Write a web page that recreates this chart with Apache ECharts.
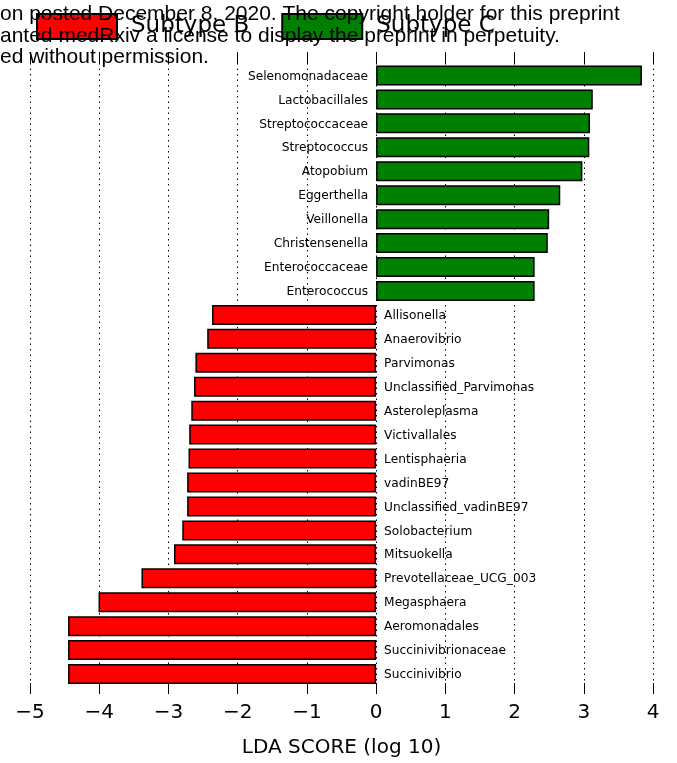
<!DOCTYPE html>
<html><head><meta charset="utf-8">
<script src="https://cdn.jsdelivr.net/npm/echarts@6/dist/echarts.min.js"></script>
<style>html,body{margin:0;padding:0;background:#fff}#c{width:677px;height:763px}</style>
</head><body><div id="c"></div>
<script>
var categories = ["Selenomonadaceae","Lactobacillales","Streptococcaceae","Streptococcus","Atopobium","Eggerthella","Veillonella","Christensenella","Enterococcaceae","Enterococcus","Allisonella","Anaerovibrio","Parvimonas","Unclassified_Parvimonas","Asteroleplasma","Victivallales","Lentisphaeria","vadinBE97","Unclassified_vadinBE97","Solobacterium","Mitsuokella","Prevotellaceae_UCG_003","Megasphaera","Aeromonadales","Succinivibrionaceae","Succinivibrio"];
var subtypeC = [3.84,3.13,3.09,3.08,2.98,2.66,2.50,2.48,2.29,2.29,'-','-','-','-','-','-','-','-','-','-','-','-','-','-','-','-'];
var subtypeB = ['-','-','-','-','-','-','-','-','-','-',-2.37,-2.44,-2.61,-2.63,-2.67,-2.70,-2.71,-2.73,-2.73,-2.80,-2.92,-3.39,-4.01,-4.45,-4.45,-4.45];
var xTicks = {min:-5, max:4, interval:1};
var seriesNames = ["Subtype B","Subtype C"];
var watermark = ["on posted December 8, 2020. The copyright holder for this preprint","anted medRxiv a license to display the preprint in perpetuity.","ed without permission."];

var chart = echarts.init(document.getElementById('c'), null, {renderer:'canvas'});
var fmt = function(v){ return v < 0 ? '\u2212' + Math.abs(v) : String(v); };
var font = 'DejaVu Sans';
chart.setOption({
  animation:false,
  backgroundColor:'#fff',
  legend:{
    left:31, top:8, itemWidth:80, itemHeight:25, itemGap:32,
    icon:'rect',
    data:seriesNames,
    textStyle:{fontFamily:font, fontSize:23, color:'#000', padding:[6,0,0,9]},
    itemStyle:{borderColor:'#000', borderWidth:2}
  },
  grid:[
    {left:30, right:24, top:63.5, bottom:77},
    {left:30, right:24, top:52, bottom:61}
  ],
  xAxis:[
    {gridIndex:0, type:'value', min:xTicks.min, max:xTicks.max, interval:xTicks.interval, show:false},
    {gridIndex:1, type:'value', position:'bottom', min:xTicks.min, max:xTicks.max, interval:xTicks.interval,
     axisLine:{show:false}, axisTick:{show:true, inside:true, length:11, lineStyle:{color:'#000'}},
     axisLabel:{formatter:fmt, fontFamily:font, fontSize:20, color:'#000', margin:9},
     splitLine:{show:true, lineStyle:{type:[1.5,4], color:'#000', width:1}},
     name:'LDA SCORE (log 10)', nameLocation:'middle', nameGap:44,
     nameTextStyle:{fontFamily:font, fontSize:20, color:'#000'}},
    {gridIndex:1, type:'value', position:'top', min:xTicks.min, max:xTicks.max, interval:xTicks.interval,
     axisLine:{show:false}, axisTick:{show:true, inside:true, length:11, lineStyle:{color:'#000'}},
     axisLabel:{show:false}, splitLine:{show:false}}
  ],
  yAxis:[
    {gridIndex:0, type:'category', data:categories, inverse:true, show:false},
    {gridIndex:1, type:'value', min:0, max:1, show:false}
  ],
  series:[
    {name:seriesNames[0], type:'bar', xAxisIndex:0, yAxisIndex:0, data:subtypeB, barWidth:20, barGap:'-100%',
     itemStyle:{color:'#ff0000', borderColor:'#000', borderWidth:1.5},
     label:{show:true, position:'right', distance:8, offset:[0,1], formatter:function(p){return p.name;}, fontFamily:font, fontSize:12.2, color:'#000'}},
    {name:seriesNames[1], type:'bar', xAxisIndex:0, yAxisIndex:0, data:subtypeC, barWidth:20, barGap:'-100%',
     itemStyle:{color:'#008000', borderColor:'#000', borderWidth:1.5},
     label:{show:true, position:'left', distance:8, offset:[0,1], formatter:function(p){return p.name;}, fontFamily:font, fontSize:12.2, color:'#000'}}
  ],
  graphic: watermark.map(function(t,i){
    return {type:'text', left:0, top:4 + i*21.5, z:100, silent:true,
      style:{text:t, fontFamily:'Liberation Sans', fontSize:21, fill:'#000'}};
  })
});
</script></body></html>
